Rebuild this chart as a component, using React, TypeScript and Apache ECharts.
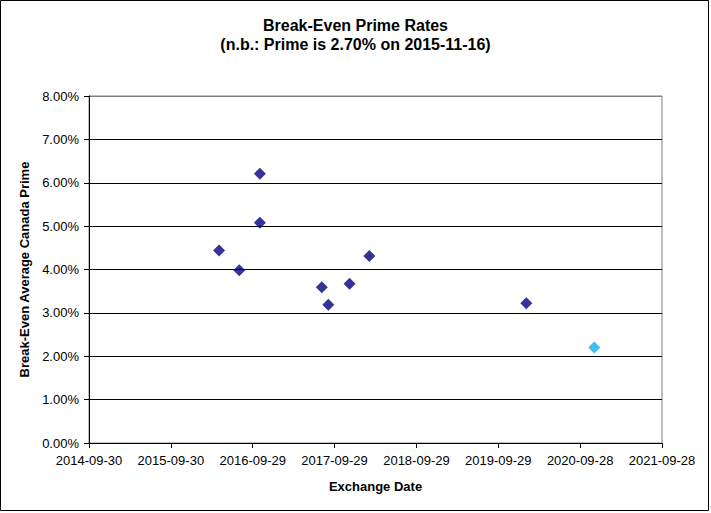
import React, { useEffect, useRef } from "react";
import * as echarts from "echarts";

const baseDate = "2014-09-30";
const tickIntervalDays = 365;
const axisSpanDays = 2555;
const yTicksMax = 8;

const mainDates = [
  "2016-05-02",
  "2016-07-31",
  "2016-10-31",
  "2016-10-31",
  "2017-08-03",
  "2017-09-01",
  "2017-12-05",
  "2018-03-03",
  "2020-02-01",
];
const mainRates = [4.44, 3.98, 6.21, 5.08, 3.59, 3.19, 3.67, 4.31, 3.22];

const highlightDates = ["2020-11-30"];
const highlightRates = [2.2];

const DAY = 86400000;
const baseMs = Date.parse(baseDate + "T00:00:00Z");
const toDays = (d: string) => Math.round((Date.parse(d + "T00:00:00Z") - baseMs) / DAY);
const fromDays = (v: number) => new Date(baseMs + v * DAY).toISOString().slice(0, 10);

export default function App() {
  const ref = useRef<HTMLDivElement>(null);
  useEffect(() => {
    if (!ref.current) return;
    const chart = echarts.init(ref.current, null, { renderer: "svg" });
    const font = "'Liberation Sans', Arial, sans-serif";
    const splitColors = Array.from({ length: yTicksMax + 1 }, (_, i) => (i === yTicksMax ? "#808080" : "#000000"));
    chart.setOption({
      animation: false,
      backgroundColor: "#ffffff",
      textStyle: { fontFamily: font, color: "#000" },
      title: {
        text: "Break-Even Prime Rates\n(n.b.: Prime is 2.70% on 2015-11-16)",
        left: "center",
        top: 11,
        textStyle: { fontFamily: font, fontSize: 16, fontWeight: "bold", color: "#000", lineHeight: 19 },
      },
      graphic: [
        {
          type: "rect",
          shape: { x: 0.5, y: 0.5, width: 708, height: 510 },
          style: { fill: "none", stroke: "#000", lineWidth: 1 },
          silent: true,
        },
      ],
      grid: {
        left: 89,
        right: 49,
        top: 96,
        bottom: 70,
        show: true,
        borderColor: "#808080",
        borderWidth: 1,
        backgroundColor: "#fff",
      },
      xAxis: {
        type: "value",
        min: 0,
        max: axisSpanDays,
        interval: tickIntervalDays,
        name: "Exchange Date",
        nameLocation: "middle",
        nameGap: 37,
        nameTextStyle: { fontFamily: font, fontSize: 13, fontWeight: "bold", color: "#000" },
        axisLine: { show: true, lineStyle: { color: "#000", width: 1 } },
        axisTick: { show: true, inside: false, length: 5, lineStyle: { color: "#000" } },
        axisLabel: {
          fontFamily: font,
          fontSize: 13,
          color: "#000",
          margin: 11,
          formatter: (v: number) => fromDays(v),
        },
        splitLine: { show: false },
      },
      yAxis: {
        type: "value",
        min: 0,
        max: yTicksMax,
        interval: 1,
        name: "Break-Even Average Canada Prime",
        nameLocation: "middle",
        nameGap: 56,
        nameTextStyle: { fontFamily: font, fontSize: 13, fontWeight: "bold", color: "#000" },
        axisLine: { show: true, lineStyle: { color: "#000", width: 1 } },
        axisTick: { show: true, inside: false, length: 5, lineStyle: { color: "#000" } },
        axisLabel: {
          fontFamily: font,
          fontSize: 13,
          color: "#000",
          margin: 10,
          formatter: (v: number) => v.toFixed(2) + "%",
        },
        splitLine: { show: true, lineStyle: { color: splitColors, width: 1 } },
      },
      series: [
        {
          type: "scatter",
          symbol: "diamond",
          symbolSize: 12,
          itemStyle: { color: "#000080" },
          data: mainDates.map((d, i) => [toDays(d), mainRates[i]]),
        },
        {
          type: "scatter",
          symbol: "diamond",
          symbolSize: 12,
          itemStyle: { color: "#14AAF0" },
          data: highlightDates.map((d, i) => [toDays(d), highlightRates[i]]),
        },
      ],
    });
    return () => chart.dispose();
  }, []);
  return (
    <div
      ref={ref}
      style={{ position: "fixed", left: 0, top: 0, width: 711, height: 513 }}
    />
  );
}
